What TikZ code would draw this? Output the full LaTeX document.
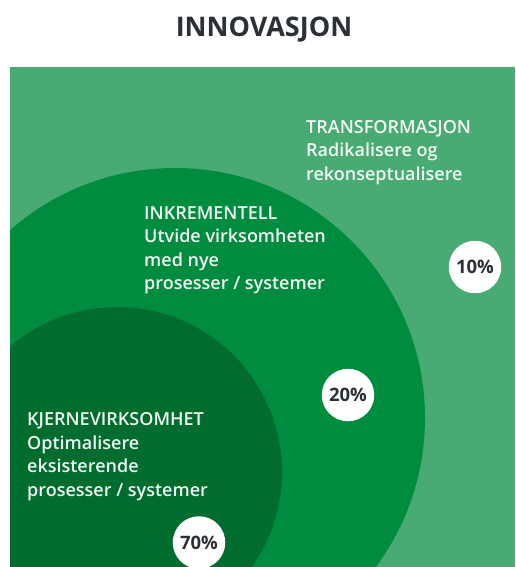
\documentclass[tikz,border=0pt]{standalone}
\usepackage{fontspec}
\setmainfont{Open Sans}
\newfontfamily\semib{Open Sans Semibold}
\begin{document}
\definecolor{outerg}{RGB}{74,170,115}
\definecolor{midg}{RGB}{0,140,62}
\definecolor{darkg}{RGB}{0,108,46}
\definecolor{ink}{RGB}{43,47,54}
\definecolor{paper}{RGB}{242,248,244}
\begin{tikzpicture}[x=1pt,y=-1pt,
  label/.style={anchor=north west,inner sep=0pt,align=left,text=paper,
    font=\semib\fontsize{18}{23.5}\selectfont},
  pct/.style={circle,fill=white,minimum size=52.5pt,inner sep=0pt,text=ink,
    font=\bfseries\fontsize{18.5}{22}\selectfont}]
\useasboundingbox (0,0) rectangle (515,567);
% title
\node (title) at (264,37) [anchor=base,inner sep=0pt,text=ink,font=\bfseries\fontsize{27}{32}\selectfont] {INNOVASJON};
% field of the three nested areas
\fill[outerg] (10,67) rectangle (515,567);
\begin{scope}
  \clip (10,67) rectangle (515,567);
  \fill[midg] (175,418) circle[radius=250];
  \fill[darkg] (117,472) circle[radius=165];
\end{scope}
% labels
\node (tra) at (306,120) [label] {TRANSFORMASJON\\Radikalisere og\\rekonseptualisere};
\node (ink) at (144,206) [label] {INKREMENTELL\\Utvide virksomheten\\med nye\\prosesser / systemer};
\node (kje) at (27,412.5) [label] {KJERNEVIRKSOMHET\\Optimalisere\\eksisterende\\prosesser / systemer};
% shares
\node (p10) at (475,267) [pct] {10\%};
\node (p20) at (348,395) [pct] {20\%};
\node (p70) at (199,542.5) [pct] {70\%};
\end{tikzpicture}
\end{document}
